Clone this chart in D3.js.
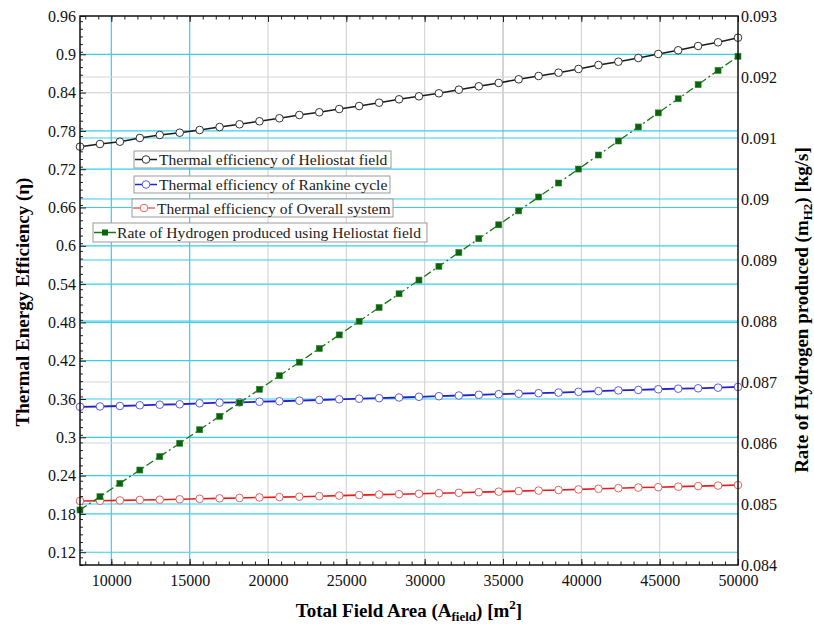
<!DOCTYPE html>
<html>
<head>
<meta charset="utf-8">
<script src="https://cdn.jsdelivr.net/npm/d3@7"></script>
<style>
  body { margin: 0; background: #fff; }
</style>
</head>
<body>
<svg width="814" height="626" font-family="Liberation Serif, Times New Roman, serif"></svg>
<script>
const width = 814;
const height = 626;
const margin = { top: 16, right: 76, bottom: 61, left: 80 };
const innerW = width - margin.left - margin.right;
const innerH = height - margin.top - margin.bottom;
const serif = "'Liberation Serif', 'Times New Roman', serif";

// field area samples [m2]
const fieldArea = [8000, 9273, 10545, 11818, 13091, 14364, 15636, 16909, 18182, 19455,
    20727, 22000, 23273, 24545, 25818, 27091, 28364, 29636, 30909, 32182, 33455, 34727,
    36000, 37273, 38545, 39818, 41091, 42364, 43636, 44909, 46182, 47455, 48727, 50000];

const effHeliostat = [0.7553, 0.7595, 0.7631, 0.7689, 0.7736, 0.7772, 0.7814, 0.7861, 0.7904,
    0.7951, 0.7998, 0.8049, 0.8092, 0.8143, 0.8190, 0.8242, 0.8295, 0.8342, 0.8389, 0.8446,
    0.8499, 0.8551, 0.8608, 0.8660, 0.8712, 0.8770, 0.8832, 0.8884, 0.8942, 0.9005, 0.9063,
    0.9130, 0.9188, 0.9260];

const effRankine = [0.3478, 0.3483, 0.3491, 0.3502, 0.3511, 0.3518, 0.3533, 0.3543, 0.3549,
    0.3558, 0.3565, 0.3574, 0.3585, 0.3596, 0.3605, 0.3613, 0.3624, 0.3635, 0.3644, 0.3655,
    0.3666, 0.3676, 0.3683, 0.3691, 0.3701, 0.3713, 0.3724, 0.3735, 0.3742, 0.3753, 0.3762,
    0.3768, 0.3778, 0.3789];

const effOverall = [0.2003, 0.2006, 0.2012, 0.2019, 0.2023, 0.2029, 0.2037, 0.2044, 0.2050,
    0.2058, 0.2064, 0.2070, 0.2078, 0.2087, 0.2095, 0.2103, 0.2109, 0.2116, 0.2124, 0.2131,
    0.2141, 0.2149, 0.2158, 0.2166, 0.2175, 0.2184, 0.2194, 0.2203, 0.2213, 0.2219, 0.2227,
    0.2236, 0.2244, 0.2253];

// hydrogen rate [kg/s], right axis
const h2Rate = [0.084902, 0.085120, 0.085338, 0.085557, 0.085777, 0.085996, 0.086217,
    0.086438, 0.086659, 0.086881, 0.087103, 0.087325, 0.087549, 0.087772, 0.087996,
    0.088221, 0.088446, 0.088671, 0.088897, 0.089123, 0.089350, 0.089577, 0.089805,
    0.090033, 0.090262, 0.090491, 0.090721, 0.090951, 0.091181, 0.091412, 0.091643,
    0.091875, 0.092108, 0.092340];

const xTicks = [10000, 15000, 20000, 25000, 30000, 35000, 40000, 45000, 50000];
const leftTicks = [0.12, 0.18, 0.24, 0.3, 0.36, 0.42, 0.48, 0.54, 0.6, 0.66, 0.72, 0.78, 0.84, 0.9, 0.96];
const rightTicks = [0.084, 0.085, 0.086, 0.087, 0.088, 0.089, 0.09, 0.091, 0.092, 0.093];

const legendLabels = [
    "Thermal efficiency of Heliostat field",
    "Thermal efficiency of Rankine cycle",
    "Thermal efficiency of Overall system",
    "Rate of Hydrogen produced using Heliostat field",
];

const cyan = "#35d0ea";
const fmt = d3.format("~g");

const svg = d3.select("svg");
const g = svg.append("g").attr("transform", `translate(${margin.left},${margin.top})`);

const x = d3.scaleLinear().domain([8000, 50000]).range([0, innerW]);
const yL = d3.scaleLinear().domain([0.1, 0.96]).range([innerH, 0]);
const yR = d3.scaleLinear().domain([0.084, 0.093]).range([innerH, 0]);

// grid lines
const grid = g.append("g").attr("class", "grid");
grid.selectAll("line.vx")
    .data(xTicks.slice(0, -1))
    .join("line")
    .attr("x1", (d) => x(d)).attr("x2", (d) => x(d))
    .attr("y1", 0).attr("y2", innerH)
    .attr("stroke", (d) => (d < 20000 ? cyan : d == 35000 ? "#b8b8b8" : "#d6d6d6"))
    .attr("stroke-width", 1.2);

grid.selectAll("line.hr")
    .data(rightTicks.slice(1, -1))
    .join("line")
    .attr("x1", 0).attr("x2", innerW)
    .attr("y1", (d) => yR(d)).attr("y2", (d) => yR(d))
    .attr("stroke", (d) => ([0.086, 0.087, 0.092].includes(d) ? "#d6d6d6" : cyan))
    .attr("stroke-width", 1.2);

grid.selectAll("line.hl")
    .data(leftTicks.slice(0, -1))
    .join("line")
    .attr("x1", 0).attr("x2", innerW)
    .attr("y1", (d) => yL(d)).attr("y2", (d) => yL(d))
    .attr("stroke", (d) => (d == 0.84 ? "#d6d6d6" : cyan))
    .attr("stroke-width", 1.2);

// axes
const minorX = d3.range(8000 + 1000 / 3, 50000, 5000 / 6);
const minorL = d3.range(0.1, 0.96, 0.012);

const axes = g.append("g").attr("class", "axes");
axes.append("g")
    .attr("transform", `translate(0,${innerH})`)
    .call(d3.axisBottom(x).tickValues(xTicks).tickSizeInner(-6).tickSizeOuter(0).tickPadding(10).tickFormat(d3.format("d")));
axes.append("g")
    .attr("transform", `translate(0,${innerH})`)
    .call(d3.axisBottom(x).tickValues(minorX).tickSizeInner(-3.5).tickSizeOuter(0).tickFormat(""));
axes.append("g")
    .call(d3.axisTop(x).tickValues(xTicks).tickSizeInner(-6).tickSizeOuter(0).tickFormat(""));
axes.append("g")
    .call(d3.axisTop(x).tickValues(minorX).tickSizeInner(-3.5).tickSizeOuter(0).tickFormat(""));

axes.append("g")
    .call(d3.axisLeft(yL).tickValues(leftTicks).tickSizeInner(-6).tickSizeOuter(0).tickPadding(4).tickFormat(fmt));
axes.append("g")
    .call(d3.axisLeft(yL).tickValues(minorL).tickSizeInner(-3).tickSizeOuter(0).tickFormat(""));

axes.append("g")
    .attr("transform", `translate(${innerW},0)`)
    .call(d3.axisRight(yR).tickValues(rightTicks).tickSizeInner(0).tickSizeOuter(0).tickPadding(3).tickFormat(fmt));

axes.selectAll(".domain").remove();
axes.selectAll(".tick line").attr("stroke", "#222");
axes.selectAll(".tick text")
    .style("font-family", serif)
    .style("font-size", "16px")
    .attr("fill", "#111");

// series
const series = [
    { vals: effHeliostat, y: yL, line: "#1a1a1a", mark: "#333", w: 1.6 },
    { vals: effRankine, y: yL, line: "#2222cc", mark: "#5c5ce0", w: 1.8 },
    { vals: effOverall, y: yL, line: "#e31c1c", mark: "#e26262", w: 1.6 },
];

series.forEach((s) => {
    const pts = fieldArea.map((a, i) => [a, s.vals[i]]);
    g.append("path")
        .datum(pts)
        .attr("fill", "none")
        .attr("stroke", s.line)
        .attr("stroke-width", s.w)
        .attr("d", d3.line().x((d) => x(d[0])).y((d) => s.y(d[1])));
    g.append("g")
        .selectAll("circle")
        .data(pts)
        .join("circle")
        .attr("cx", (d) => x(d[0]))
        .attr("cy", (d) => s.y(d[1]))
        .attr("r", 3.8)
        .attr("fill", "#fff")
        .attr("stroke", s.mark)
        .attr("stroke-width", 1);
});

const h2pts = fieldArea.map((a, i) => [a, h2Rate[i]]);
g.append("path")
    .datum(h2pts)
    .attr("fill", "none")
    .attr("stroke", "#177a17")
    .attr("stroke-width", 1.3)
    .attr("stroke-dasharray", "8,3,2,3")
    .attr("d", d3.line().x((d) => x(d[0])).y((d) => yR(d[1])));
g.append("g")
    .selectAll("rect")
    .data(h2pts)
    .join("rect")
    .attr("x", (d) => x(d[0]) - 3)
    .attr("y", (d) => yR(d[1]) - 3)
    .attr("width", 6)
    .attr("height", 6)
    .attr("fill", "#0b640b")
    .attr("stroke", "#2f7f2f")
    .attr("stroke-width", 0.6);

// frame
g.append("rect")
    .attr("width", innerW)
    .attr("height", innerH)
    .attr("fill", "none")
    .attr("stroke", "#111")
    .attr("stroke-width", 1.5);

// legend (each entry boxed)
const legendBoxes = [
    { x: 134, y: 151, w: 257, h: 17, sx: 135, tx: 159 },
    { x: 134, y: 176, w: 256, h: 17, sx: 135, tx: 159 },
    { x: 132, y: 199, w: 261, h: 18, sx: 133, tx: 157 },
    { x: 93, y: 223, w: 334, h: 19, sx: 94, tx: 117 },
];
const legendColors = [
    { line: "#1a1a1a", mark: "#333" },
    { line: "#2222cc", mark: "#5c5ce0" },
    { line: "#e86a6a", mark: "#e26262" },
    { line: "#177a17", mark: "#0b640b" },
];
const legend = svg.append("g");
legendBoxes.forEach((b, i) => {
    const e = legend.append("g");
    const cy = b.y + b.h / 2;
    e.append("rect")
        .attr("x", b.x).attr("y", b.y).attr("width", b.w).attr("height", b.h)
        .attr("fill", "#fff").attr("stroke", "#9a9a9a").attr("stroke-width", 1);
    e.append("line")
        .attr("x1", b.sx).attr("x2", b.sx + 22).attr("y1", cy).attr("y2", cy)
        .attr("stroke", legendColors[i].line).attr("stroke-width", 1.5);
    if (i < 3) {
        e.append("circle")
            .attr("cx", b.sx + 11).attr("cy", cy).attr("r", 3.8)
            .attr("fill", "#fff").attr("stroke", legendColors[i].mark);
    } else {
        e.append("rect")
            .attr("x", b.sx + 8).attr("y", cy - 3).attr("width", 6).attr("height", 6)
            .attr("fill", legendColors[i].mark);
    }
    e.append("text")
        .attr("x", b.tx).attr("y", cy + 5.5)
        .attr("font-size", 15.6)
        .attr("fill", "#222")
        .text(legendLabels[i]);
});

// axis titles
const xt = svg.append("text")
    .attr("x", margin.left + innerW / 2)
    .attr("y", 617)
    .attr("text-anchor", "middle")
    .attr("font-size", 19)
    .attr("font-weight", "bold");
xt.append("tspan").text("Total Field Area (A");
xt.append("tspan").attr("font-size", 13).attr("dy", 4).text("field");
xt.append("tspan").attr("dy", -4).text(") [m");
xt.append("tspan").attr("font-size", 13).attr("dy", -8).text("2");
xt.append("tspan").attr("dy", 8).text("]");

svg.append("text")
    .attr("transform", "translate(29,302) rotate(-90)")
    .attr("text-anchor", "middle")
    .attr("font-size", 19)
    .attr("font-weight", "bold")
    .text("Thermal Energy Efficiency (η)");

const yt = svg.append("text")
    .attr("transform", "translate(808,310) rotate(-90)")
    .attr("text-anchor", "middle")
    .attr("font-size", 19)
    .attr("font-weight", "bold");
yt.append("tspan").text("Rate of Hydrogen produced (m");
yt.append("tspan").attr("font-size", 13).attr("dy", 4).text("H2");
yt.append("tspan").attr("dy", -4).text(") [kg/s]");
</script>
</body>
</html>
